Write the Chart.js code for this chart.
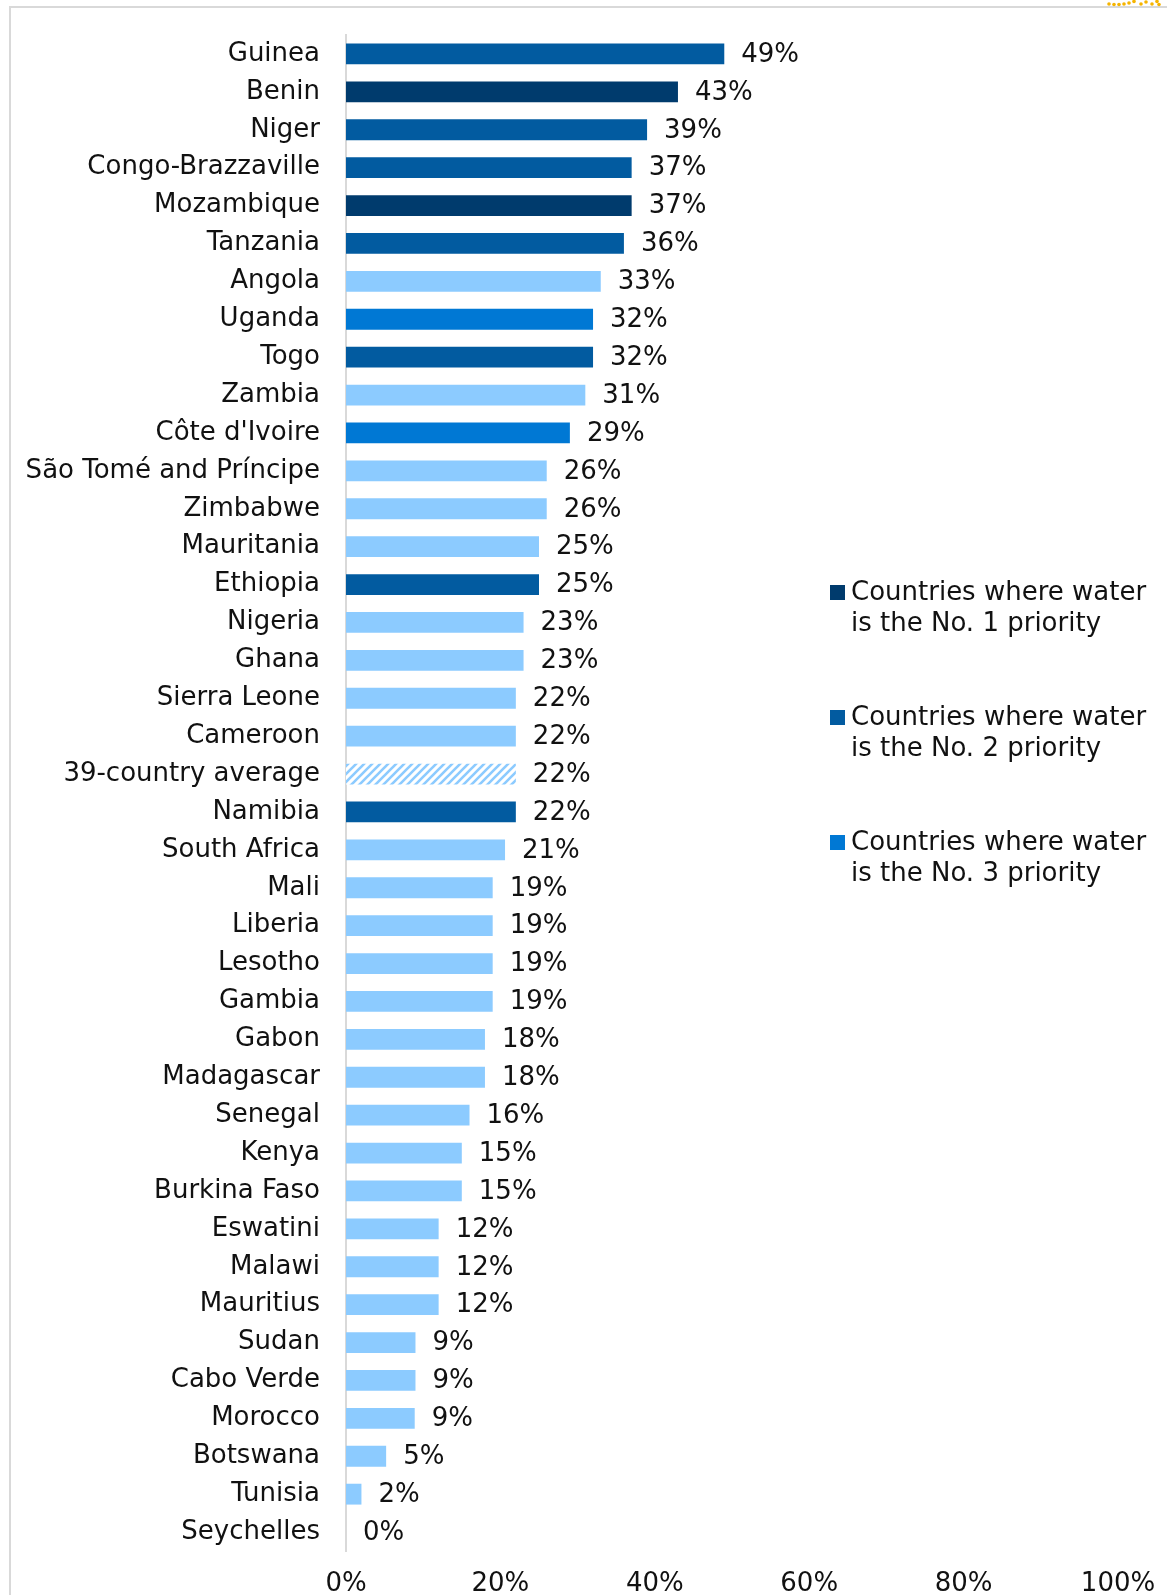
<!DOCTYPE html>
<html>
<head>
<meta charset="utf-8">
<script src="https://cdn.jsdelivr.net/npm/chart.js@4"></script>
<style>
  html, body { margin: 0; padding: 0; background: #fff; }
  #wrap { position: relative; width: 1167px; height: 1595px; }
</style>
</head>
<body>
<div id="wrap"><canvas id="c" width="1167" height="1595"></canvas></div>
<script>
const categories = ["Guinea","Benin","Niger","Congo-Brazzaville","Mozambique","Tanzania","Angola","Uganda","Togo","Zambia","Côte d'Ivoire","São Tomé and Príncipe","Zimbabwe","Mauritania","Ethiopia","Nigeria","Ghana","Sierra Leone","Cameroon","39-country average","Namibia","South Africa","Mali","Liberia","Lesotho","Gambia","Gabon","Madagascar","Senegal","Kenya","Burkina Faso","Eswatini","Malawi","Mauritius","Sudan","Cabo Verde","Morocco","Botswana","Tunisia","Seychelles"];
const values = [49,43,39,37,37,36,33,32,32,31,29,26,26,25,25,23,23,22,22,22,22,20.6,19,19,19,19,18,18,16,15,15,12,12,12,9,9,8.9,5.2,2,0];
const groups = ["no2","no1","no2","no2","no1","no2","other","no3","no2","other","no3","other","other","other","no2","other","other","other","other","avg","no2","other","other","other","other","other","other","other","other","other","other","other","other","other","other","other","other","other","other","other"];
const xTicks = [0,20,40,60,80,100];
const legendLabels = [["Countries where water","is the No. 1 priority"],["Countries where water","is the No. 2 priority"],["Countries where water","is the No. 3 priority"]];
const legendGroups = ["no1","no2","no3"];

const groupColors = { no1: "#003B6D", no2: "#025BA0", no3: "#0078D4", other: "#8CCBFF", avg: "#8CCBFF" };
const FONT = "'DejaVu Sans', sans-serif";
const FSIZE = 26;

function hatchPattern(ctx, color) {
  const c = document.createElement('canvas');
  c.width = 8; c.height = 8;
  const x = c.getContext('2d');
  x.fillStyle = '#fff'; x.fillRect(0, 0, 8, 8);
  x.strokeStyle = color; x.lineWidth = 2.6;
  x.beginPath();
  x.moveTo(-2, 10); x.lineTo(10, -2);
  x.moveTo(-6, 6); x.lineTo(6, -6);
  x.moveTo(2, 14); x.lineTo(14, 2);
  x.stroke();
  return ctx.createPattern(c, 'repeat') || color;
}
const ctx0 = document.getElementById('c').getContext('2d');
const barColors = groups.map(g => g === 'avg' ? hatchPattern(ctx0, groupColors.avg) : groupColors[g]);

const framePlugin = {
  id: 'frame',
  beforeDraw(chart) {
    const c = chart.ctx;
    c.save();
    c.strokeStyle = '#d9d9d9';
    c.lineWidth = 2;
    c.beginPath();
    c.moveTo(10, 1595); c.lineTo(10, 7); c.lineTo(1167, 7);
    c.stroke();
    // small logo fragment (yellow dots) at top-right
    c.fillStyle = '#F5B400';
    [[1109,4],[1114,4.5],[1119,4.5],[1124,4],[1129,3],[1134,1.5],[1141,4],[1146,2],[1152,4],[1157,1.5],[1159,4.5]].forEach(([x, y]) => {
      c.beginPath(); c.arc(x, y, 1.8, 0, Math.PI * 2); c.fill();
    });
    c.restore();
  }
};

const valueLabels = {
  id: 'valueLabels',
  afterDatasetsDraw(chart) {
    const c = chart.ctx;
    const meta = chart.getDatasetMeta(0);
    c.save();
    c.font = FSIZE + "px " + FONT;
    c.fillStyle = '#111';
    c.textAlign = 'left';
    c.textBaseline = 'middle';
    meta.data.forEach((el, i) => {
      c.fillText(Math.round(values[i]) + '%', el.x + 17, el.y + 1);
    });
    c.restore();
  }
};

const customLegend = {
  id: 'customLegend',
  afterDraw(chart) {
    const c = chart.ctx;
    c.save();
    c.font = FSIZE + "px " + FONT;
    c.textAlign = 'left';
    c.textBaseline = 'middle';
    legendLabels.forEach((lines, i) => {
      const y0 = 593 + i * 125;
      c.fillStyle = groupColors[legendGroups[i]];
      c.fillRect(830, y0 - 8, 15, 15);
      c.fillStyle = '#111';
      lines.forEach((t, j) => c.fillText(t, 851, y0 + j * 31));
    });
    c.restore();
  }
};

new Chart(ctx0, {
  type: 'bar',
  data: {
    labels: categories,
    datasets: [{
      data: values,
      backgroundColor: barColors,
      borderWidth: 0,
      barPercentage: 0.55,
      categoryPercentage: 1.0
    }]
  },
  options: {
    indexAxis: 'y',
    responsive: false,
    animation: false,
    devicePixelRatio: 1,
    layout: { padding: { top: 35, right: 49, left: 0, bottom: 0 } },
    plugins: { legend: { display: false }, tooltip: { enabled: false } },
    scales: {
      x: {
        min: 0, max: 100,
        afterBuildTicks(scale) { scale.ticks = xTicks.map(v => ({ value: v })); },
        grid: { display: false, drawTicks: false },
        border: { display: false },
        ticks: { callback: v => v + '%', color: '#111', font: { family: FONT, size: FSIZE }, padding: 18, maxRotation: 0 },
        afterFit(scale) { scale.height = 44; scale.paddingLeft = 0; scale.paddingRight = 0; }
      },
      y: {
        grid: { display: false, drawTicks: false },
        border: { display: true, color: '#d9d9d9', width: 2 },
        ticks: { color: '#111', font: { family: FONT, size: FSIZE }, padding: 26, autoSkip: false },
        afterFit(scale) { scale.width = 346; scale.paddingTop = 0; scale.paddingBottom = 0; }
      }
    }
  },
  plugins: [framePlugin, valueLabels, customLegend]
});
</script>
</body>
</html>
